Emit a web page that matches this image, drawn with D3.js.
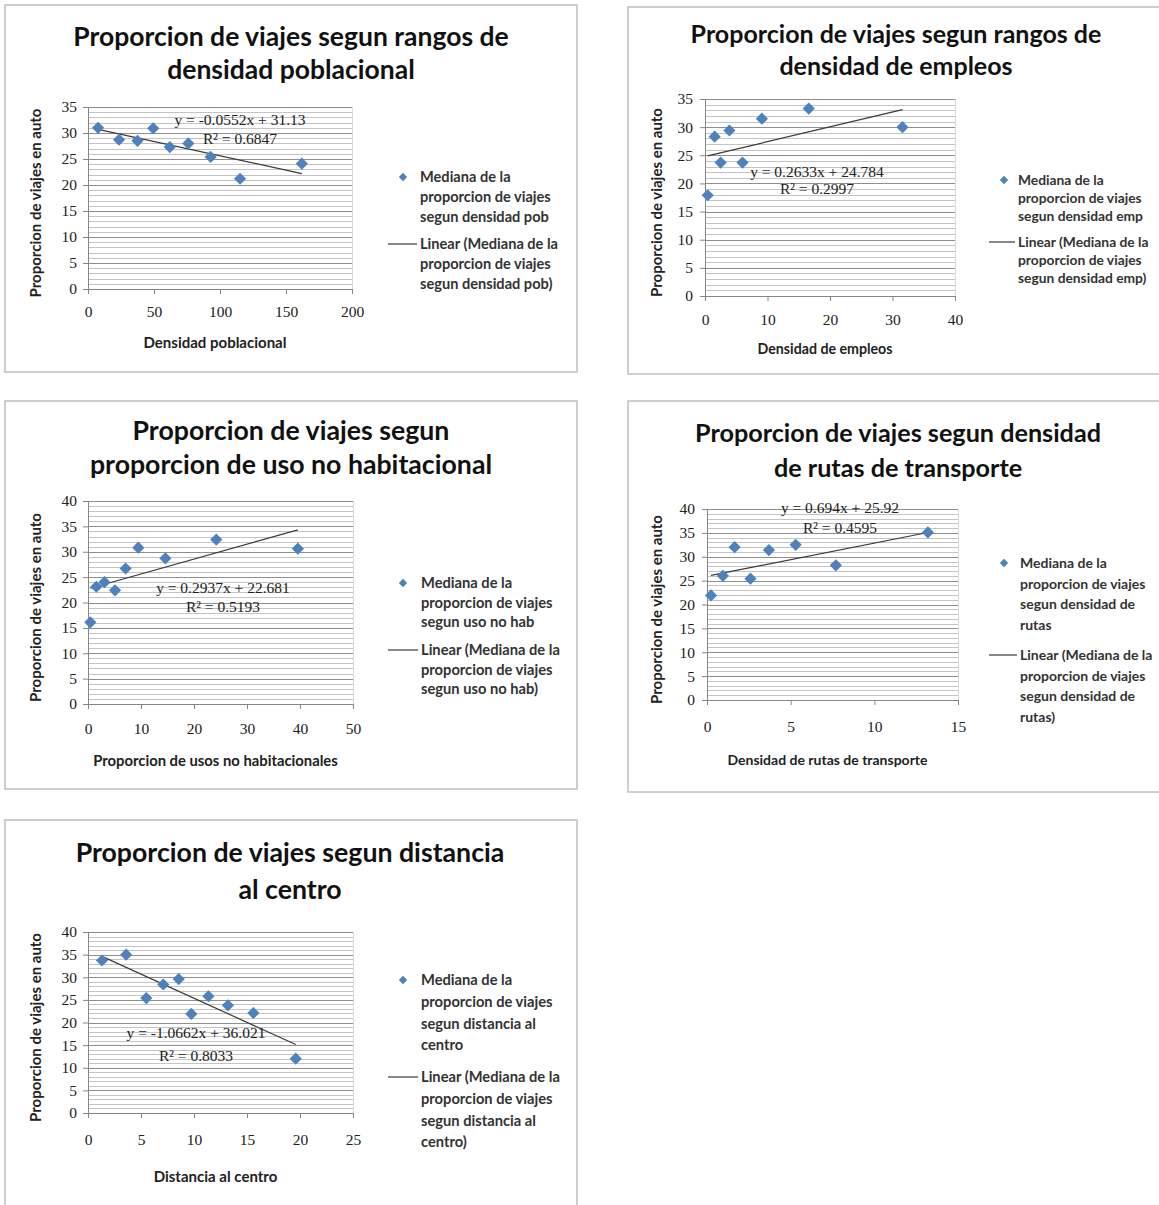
<!DOCTYPE html>
<html>
<head>
<meta charset="utf-8">
<script src="https://cdnjs.cloudflare.com/ajax/libs/d3/7.8.5/d3.min.js"></script>
<style>
  body { margin: 0; background: #fff; }
  svg text { font-family: Lato, "Open Sans", sans-serif; }
  .num { font-family: "Liberation Serif", "DejaVu Serif", serif !important; }
</style>
</head>
<body>
<div id="chart"></div>
<script>
// Data (medians of car trip share)
const densPobX = [7.6, 23.5, 37.5, 49.4, 62, 76, 92.9, 115.2, 162];
const densPobY = [31.0, 28.7, 28.5, 30.9, 27.3, 28.0, 25.4, 21.2, 24.1];

const densEmpX = [0.43, 1.55, 2.5, 3.9, 6.0, 9.1, 16.6, 31.6];
const densEmpY = [17.9, 28.3, 23.7, 29.4, 23.7, 31.5, 33.3, 30.0];

const usoNoHabX = [0.44, 1.57, 3.1, 5.1, 7.1, 9.5, 14.6, 24.2, 39.6];
const usoNoHabY = [16.1, 23.1, 24.0, 22.4, 26.7, 30.8, 28.7, 32.4, 30.6];

const rutasX = [0.24, 0.95, 1.65, 2.6, 3.7, 5.3, 7.7, 13.2];
const rutasY = [21.9, 26.0, 32.0, 25.4, 31.4, 32.5, 28.2, 35.1];

const distX = [1.32, 3.6, 5.5, 7.1, 8.56, 9.75, 11.36, 13.2, 15.6, 19.6];
const distY = [33.7, 35.0, 25.4, 28.4, 29.6, 21.9, 25.8, 23.8, 22.1, 12.0];

// trendline coefficients as printed on each chart
const slopes = [-0.0552, 0.2633, 0.2937, 0.694, -1.0662];
const intercepts = [31.13, 24.784, 22.681, 25.92, 36.021];
const eqLabels = ["y = -0.0552x + 31.13", "y = 0.2633x + 24.784", "y = 0.2937x + 22.681", "y = 0.694x + 25.92", "y = -1.0662x + 36.021"];
const r2Labels = ["R² = 0.6847", "R² = 0.2997", "R² = 0.5193", "R² = 0.4595", "R² = 0.8033"];

// axis ranges: [max, major step]
const xAxes = [[200, 50], [40, 10], [50, 10], [15, 5], [25, 5]];
const yAxes = [[35, 5], [35, 5], [40, 5], [40, 5], [40, 5]];

const titles = [
    ["Proporcion de viajes segun rangos de", "densidad poblacional"],
    ["Proporcion de viajes segun rangos de", "densidad de empleos"],
    ["Proporcion de viajes segun", "proporcion de uso no habitacional"],
    ["Proporcion de viajes segun densidad", "de rutas de transporte"],
    ["Proporcion de viajes segun distancia", "al centro"]
];
const xTitles = ["Densidad poblacional", "Densidad de empleos", "Proporcion de usos no habitacionales",
    "Densidad de rutas de transporte", "Distancia al centro"];
const yTitle = "Proporcion de viajes en auto";

const seriesNames = [
    ["Mediana de la", "proporcion de viajes", "segun densidad pob"],
    ["Mediana de la", "proporcion de viajes", "segun densidad emp"],
    ["Mediana de la", "proporcion de viajes", "segun uso no hab"],
    ["Mediana de la", "proporcion de viajes", "segun densidad de", "rutas"],
    ["Mediana de la", "proporcion de viajes", "segun distancia al", "centro"]
];

// layout of each panel on the page
const layouts = [
    { frame: [5, 5, 572, 367], px: [88, 352], py: [107, 289], title: [291, 37, 70, 26.5], lx: 403, lt: 420, lr: 177, ls: 20, ll: 244, eq: [240, 120, 139], xl: 312, xt: 343, yt: 36, yl: 77, fs: 14.6, af: 15 },
    { frame: [628, 7, 545, 367], px: [705, 955], py: [99, 296], title: [896, 34, 66, 25], lx: 1004, lt: 1018, lr: 180, ls: 18, ll: 242, eq: [817, 172, 189], xl: 320, xt: 349, yt: 657, yl: 693, fs: 13.8, af: 14.2 },
    { frame: [5, 401, 572, 388], px: [88, 353], py: [501, 704], title: [291, 431, 465, 26.7], lx: 403, lt: 421, lr: 583, ls: 19.5, ll: 650, eq: [223, 588, 607], xl: 729, xt: 761, yt: 36, yl: 77, fs: 14.7, af: 14.8 },
    { frame: [628, 401, 545, 391], px: [707, 958], py: [509, 700], title: [898, 433, 468, 25.2], lx: 1004, lt: 1020, lr: 563, ls: 20.7, ll: 655, eq: [840, 508, 528], xl: 727, xt: 760, yt: 657, yl: 695, fs: 14, af: 14 },
    { frame: [5, 820, 572, 400], px: [88, 353], py: [932, 1113], title: [290, 853, 890, 26.7], lx: 403, lt: 421, lr: 980, ls: 21.7, ll: 1077, eq: [196, 1033, 1056], xl: 1140, xt: 1177, yt: 36, yl: 77, fs: 14.7, af: 15 }
];

const seriesX = [densPobX, densEmpX, usoNoHabX, rutasX, distX];
const seriesY = [densPobY, densEmpY, usoNoHabY, rutasY, distY];

const svg = d3.select("#chart").append("svg")
    .attr("width", 1159)
    .attr("height", 1205);

const diamond = d3.symbol().type(d3.symbolDiamond2).size(95);

function drawPanel(i) {
    const L = layouts[i];
    const g = svg.append("g");

    // frame
    g.append("rect")
        .attr("x", L.frame[0]).attr("y", L.frame[1])
        .attr("width", L.frame[2]).attr("height", L.frame[3])
        .attr("fill", "#fff")
        .attr("stroke", "#bfbfbf")
        .attr("stroke-width", 1.5);

    const x = d3.scaleLinear().domain([0, xAxes[i][0]]).range(L.px);
    const y = d3.scaleLinear().domain([0, yAxes[i][0]]).range([L.py[1], L.py[0]]);

    // minor + major gridlines
    const minor = d3.range(1, yAxes[i][0] + 1);
    g.selectAll(".grid").data(minor).enter().append("line")
        .attr("x1", L.px[0]).attr("x2", L.px[1])
        .attr("y1", d => Math.round(y(d)) + 0.5)
        .attr("y2", d => Math.round(y(d)) + 0.5)
        .attr("stroke", d => d % yAxes[i][1] === 0 ? "#8f8f8f" : "#c4c4c4")
        .attr("stroke-width", 1);

    // right edge of plot area
    g.append("line")
        .attr("x1", L.px[1] + 0.5).attr("x2", L.px[1] + 0.5)
        .attr("y1", L.py[0]).attr("y2", L.py[1])
        .attr("stroke", "#d9d9d9");

    // axes
    const yAxis = d3.axisLeft(y)
        .tickValues(d3.range(0, yAxes[i][0] + 1, yAxes[i][1]))
        .tickSize(5).tickPadding(L.px[0] - L.yl - 5);
    const xAxis = d3.axisBottom(x)
        .tickValues(d3.range(0, xAxes[i][0] + 1, xAxes[i][1]))
        .tickSize(5).tickPadding(L.xl - L.py[1] - 11);

    const ya = g.append("g").attr("transform", `translate(${L.px[0]},0)`).call(yAxis);
    const xa = g.append("g").attr("transform", `translate(0,${L.py[1]})`).call(xAxis);
    [ya, xa].forEach(a => {
        a.select(".domain").attr("stroke", "#868686");
        a.selectAll(".tick line").attr("stroke", "#868686");
        a.selectAll("text").attr("class", "num")
            .style("font-size", "15.5px").attr("fill", "#222");
    });

    // titles
    g.selectAll(".title").data(titles[i]).enter().append("text")
        .attr("x", L.title[0])
        .attr("y", (d, k) => L.title[1 + k])
        .attr("dy", "0.35em")
        .attr("text-anchor", "middle")
        .style("font-size", L.title[3] + "px")
        .style("font-weight", "bold")
        .attr("fill", "#111")
        .text(d => d);

    g.append("text")
        .attr("x", (L.px[0] + L.px[1]) / 2 - 5)
        .attr("y", L.xt)
        .attr("dy", "0.35em")
        .attr("text-anchor", "middle")
        .style("font-size", L.af + "px")
        .style("font-weight", "bold")
        .attr("fill", "#222")
        .text(xTitles[i]);

    g.append("text")
        .attr("transform", `translate(${L.yt},${(L.py[0] + L.py[1]) / 2 + 5}) rotate(-90)`)
        .attr("dy", "0.35em")
        .attr("text-anchor", "middle")
        .style("font-size", "15px")
        .style("font-weight", "bold")
        .attr("fill", "#222")
        .text(yTitle);

    // trendline from min to max x
    const ext = d3.extent(seriesX[i]);
    g.append("path")
        .datum(ext)
        .attr("d", d3.line().x(d => x(d)).y(d => y(slopes[i] * d + intercepts[i])))
        .attr("stroke", "#3a3a3a")
        .attr("stroke-width", 1.2)
        .attr("fill", "none");

    // points
    g.selectAll(".pt").data(seriesX[i].map((d, k) => [d, seriesY[i][k]])).enter().append("path")
        .attr("d", diamond)
        .attr("transform", d => `translate(${x(d[0])},${y(d[1])})`)
        .attr("fill", "#4f81bd");

    // equation
    [eqLabels[i], r2Labels[i]].forEach((t, k) => {
        g.append("text")
            .attr("class", "num")
            .attr("x", L.eq[0]).attr("y", L.eq[1 + k])
            .attr("dy", "0.35em")
            .attr("text-anchor", "middle")
            .style("font-size", "15.5px")
            .attr("fill", "#222")
            .text(t);
    });

    // legend
    const names = seriesNames[i];
    g.append("path")
        .attr("d", d3.symbol().type(d3.symbolDiamond2).size(45))
        .attr("transform", `translate(${L.lx},${L.lr})`)
        .attr("fill", "#4f81bd");
    names.forEach((t, k) => {
        g.append("text")
            .attr("x", L.lt).attr("y", L.lr + k * L.ls)
            .attr("dy", "0.35em")
            .style("font-size", L.fs + "px").style("font-weight", "bold")
            .attr("fill", "#333")
            .text(t);
    });
    const linNames = names.map((t, k) => k === 0 ? "Linear (" + t : t);
    linNames[linNames.length - 1] += ")";
    g.append("line")
        .attr("x1", L.lx - 15).attr("x2", L.lt - 3)
        .attr("y1", L.ll).attr("y2", L.ll)
        .attr("stroke", "#3a3a3a").attr("stroke-width", 1.2);
    linNames.forEach((t, k) => {
        g.append("text")
            .attr("x", L.lt).attr("y", L.ll + k * L.ls)
            .attr("dy", "0.35em")
            .style("font-size", L.fs + "px").style("font-weight", "bold")
            .attr("fill", "#333")
            .text(t);
    });
}

layouts.forEach((L, i) => drawPanel(i));
</script>
</body>
</html>
